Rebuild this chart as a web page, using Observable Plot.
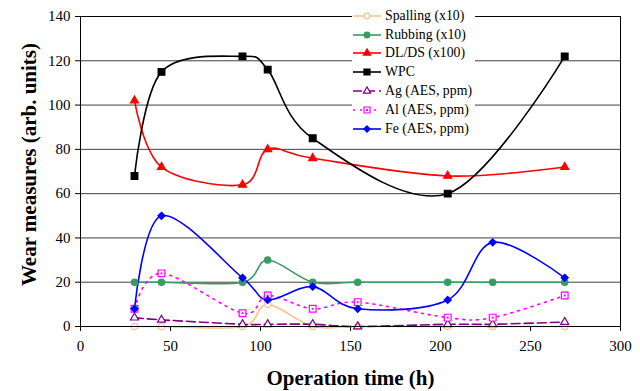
<!DOCTYPE html>
<html><head><meta charset="utf-8">
<script src="https://cdn.jsdelivr.net/npm/d3@7"></script>
<script src="https://cdn.jsdelivr.net/npm/@observablehq/plot@0.6"></script>
<style>
body{margin:0;background:#fff;}
#wrap{position:relative;width:640px;height:391px;font-family:"Liberation Serif",serif;}
#wrap svg, #wrap svg text{font-family:"Liberation Serif",serif !important;}
#legend{position:absolute;left:352px;top:6px;width:123px;height:134px;background:#fff;font-size:13.8px;color:#000;}
#legend .row{position:absolute;left:0;height:14px;display:flex;align-items:center;white-space:nowrap;}
#legend svg{margin-right:3px;}
</style>
</head><body>
<div id="wrap"><div id="legend"></div></div>
<script>
const hours    = [30, 45, 90, 104, 129, 154, 204, 229, 269];
const spalling = [0, 0, 0, 10, 0, 0, 0, 0, 0];
const rubbing  = [20, 20, 20, 30, 20, 20, 20, 20, 20];
const dlds     = [102, 72, 64, 80, 76, null, 68, null, 72];
const wpc      = [68, 115, 122, 116, 85, null, 60, null, 122];
const ag       = [4, 3, 1, 1, 1, 0, 1, 1, 2];
const al       = [8, 24, 6, 14, 8, 11, 4, 4, 14];
const fe       = [8, 50, 22, 12, 18, 8, 12, 38, 22];
const xTicks = [0, 50, 100, 150, 200, 250, 300];
const yTicks = [0, 20, 40, 60, 80, 100, 120, 140];

const series = [
  {name: "Spalling (x10)", values: spalling, color: "#f9c38f", symbol: "circle", fill: "none", dash: null, r: 3.2},
  {name: "Rubbing (x10)", values: rubbing, color: "#3a9a63", symbol: "circle", fill: "#3a9a63", dash: null, r: 3.2},
  {name: "DL/DS (x100)", values: dlds, color: "#ff0000", symbol: "triangle", fill: "#ff0000", dash: null, r: 3},
  {name: "WPC", values: wpc, color: "#000000", symbol: "square", fill: "#000000", dash: null, r: 3.8},
  {name: "Ag (AES, ppm)", values: ag, color: "#800080", symbol: "triangle", fill: "none", dash: "9,4", r: 3},
  {name: "Al (AES, ppm)", values: al, color: "#ff00ff", symbol: "square", fill: "none", dash: "2,5", r: 3.8},
  {name: "Fe (AES, ppm)", values: fe, color: "#0000ff", symbol: "diamond2", fill: "#0000ff", dash: null, r: 3.2}
];

const smooth = d3.curveCatmullRom.alpha(0);
const marks = [Plot.gridY(yTicks, {stroke: "#000", strokeOpacity: 0.75})];
for (const s of series) {
  const data = hours.map((h, i) => ({h, v: s.values[i]})).filter(d => d.v != null);
  marks.push(Plot.line(data, {x: "h", y: "v", stroke: s.color, strokeWidth: 1.6, curve: smooth, strokeDasharray: s.dash ?? undefined}));
}
for (const s of series) {
  const data = hours.map((h, i) => ({h, v: s.values[i]})).filter(d => d.v != null);
  marks.push(Plot.dot(data, {x: "h", y: "v", symbol: s.symbol, r: s.r, stroke: s.color, strokeWidth: 1.2, fill: s.fill === "none" ? "white" : s.fill}));
  if (s.name.startsWith("Al")) marks.push(Plot.dot(data, {x: "h", y: "v", symbol: "square", r: 1.1, fill: s.color}));
}
marks.push(
  Plot.frame({stroke: "#000"}),
  Plot.axisX({ticks: xTicks, tickSize: 5, tickPadding: 9, fontSize: 15, label: null}),
  Plot.axisY({ticks: yTicks, tickSize: 5, tickPadding: 5, fontSize: 15, label: null}),
  Plot.text(["Operation time (h)"], {frameAnchor: "bottom", dy: 58, fontWeight: "bold", fontSize: 21}),
  Plot.text(["Wear measures (arb. units)"], {frameAnchor: "left", textAnchor: "middle", dx: -51, dy: -7, rotate: -90, fontWeight: "bold", fontSize: 21})
);

const chart = Plot.plot({
  width: 640, height: 391,
  marginLeft: 80, marginRight: 20, marginTop: 16, marginBottom: 65,
  style: {fontFamily: "'Liberation Serif', serif", color: "#000", background: "white"},
  x: {domain: [0, 300]},
  y: {domain: [0, 140]},
  marks
});
document.getElementById("wrap").prepend(chart);

const legend = document.getElementById("legend");
const rowY = [3, 22, 40, 59, 78, 97, 116];
series.forEach((s, i) => {
  const row = document.createElement("div");
  row.className = "row";
  row.style.top = rowY[i] + "px";
  const sw = d3.create("svg").attr("width", 30).attr("height", 14);
  sw.append("line").attr("x1", 1).attr("x2", 29).attr("y1", 7).attr("y2", 7)
    .attr("stroke", s.color).attr("stroke-width", 1.6).attr("stroke-dasharray", s.dash);
  const sym = {circle: d3.symbolCircle, square: d3.symbolSquare, triangle: d3.symbolTriangle, diamond2: d3.symbolDiamond2}[s.symbol];
  sw.append("path").attr("transform", "translate(15,7)")
    .attr("d", d3.symbol(sym, Math.PI * s.r * s.r * 0.8)())
    .attr("fill", s.fill === "none" ? "white" : s.fill).attr("stroke", s.color).attr("stroke-width", 1.2);
  if (s.name.startsWith("Al")) sw.append("rect").attr("x", 14).attr("y", 6).attr("width", 2).attr("height", 2).attr("fill", s.color);
  row.appendChild(sw.node());
  const t = document.createElement("span");
  t.textContent = s.name;
  row.appendChild(t);
  legend.appendChild(row);
});
</script>
</body></html>
